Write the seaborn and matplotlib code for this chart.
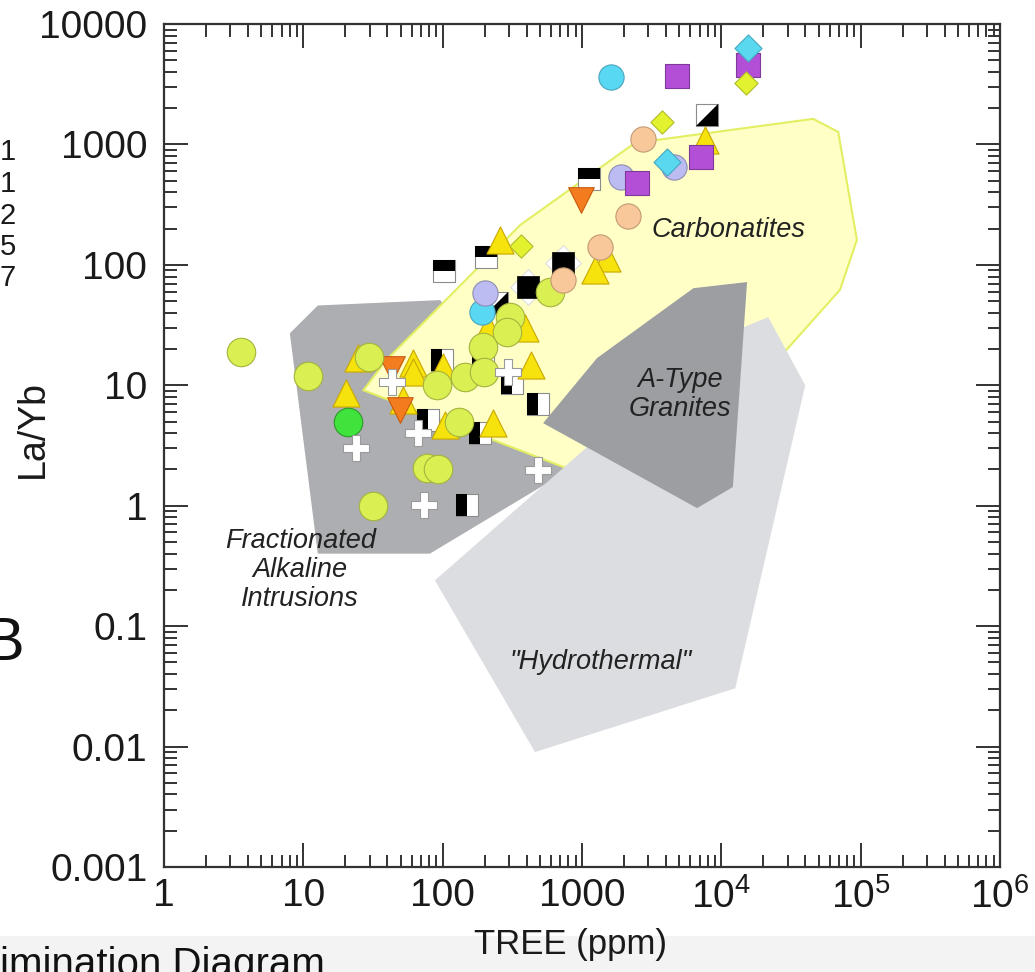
import numpy as np
import pandas as pd
import matplotlib
matplotlib.use("Agg")
import matplotlib.pyplot as plt
from matplotlib.markers import MarkerStyle
from matplotlib.ticker import LogLocator, FixedLocator, FixedFormatter, NullFormatter
import seaborn as sns

# ---------------- field outlines (TREE ppm, La/Yb) ----------------
frac_x = [8.0, 12.7, 96, 820, 81, 12.7]
frac_y = [27, 46, 51, 2.0, 0.40, 0.40]

carb_x = [27, 39, 360, 2400, 45600, 69000, 94000, 71000, 29700, 7000, 1350]
carb_y = [9.1, 16, 214, 1030, 1630, 1270, 161, 62, 20, 4.2, 1.6]

hydro_x = [88, 1090, 7000, 21700, 40000, 12600, 460]
hydro_y = [0.24, 3.07, 21.6, 36.8, 10.0, 0.0305, 0.009]

atype_x = [526, 1280, 6300, 15300, 12100, 6700]
atype_y = [4.85, 16.8, 64, 72, 1.43, 0.955]

# ---------------- sample groups ----------------
ygc_x = [3.57, 10.8, 29.6, 31.7, 91, 77, 93, 131, 145, 195, 198, 305, 290, 590]
ygc_y = [18.9, 11.9, 17.1, 1.0, 10.0, 2.05, 2.0, 4.94, 11.7, 20.8, 12.9, 36.9, 27.7, 59.4]

green_x = [20.9]
green_y = [4.94]

tri_x = [20.3, 24.7, 61.3, 61.3, 52, 101, 104, 230, 431, 212, 391, 258, 1515, 1243, 7658]
tri_y = [8.62, 16.8, 15.3, 12.9, 7.53, 14.2, 4.67, 4.85, 14.7, 29.9, 29.9, 161, 114, 90.6, 1089]

dtri_x = [43.3, 49.4, 986]
dtri_y = [13.6, 6.22, 345]

cross_x = [43.3, 23.9, 66.6, 73.5, 295, 484]
cross_y = [10.6, 3.01, 4.01, 1.01, 12.9, 1.98]

tophalf_x = [102, 205, 1125]
tophalf_y = [88.9, 116, 516]

lefthalf_x = [99, 315, 484, 78.6, 185, 150, 195]
lefthalf_y = [16.2, 10.4, 6.98, 5.14, 4.01, 1.01, 16.2]

diag_x = [7909, 246]
diag_y = [1754, 48.2]

blk_x = [410, 732]
blk_y = [65.5, 103]

cyanc_x = [1618, 192]
cyanc_y = [3631, 40.6]

lavc_x = [1909, 4585, 201]
lavc_y = [536, 649, 58.3]

peach_x = [2748, 2144, 1349, 732]
peach_y = [1109, 254, 141, 74.8]

purp_x = [4818, 15570, 7167, 2489]
purp_y = [3700, 4560, 785, 478]

ygd_x = [15070, 3758, 365]
ygd_y = [3236, 1535, 143]

cyand_x = [15570, 4083]
cyand_y = [6324, 714]

xtick_vals = [1, 10, 100, 1000, 1e4, 1e5, 1e6]
xtick_labels = ["1", "10", "100", "1000", r"$\mathregular{10^4}$",
                r"$\mathregular{10^5}$", r"$\mathregular{10^6}$"]
ytick_vals = [0.001, 0.01, 0.1, 1, 10, 100, 1000, 10000]
ytick_labels = ["0.001", "0.01", "0.1", "1", "10", "100", "1000", "10000"]

# ---------------- style ----------------
sns.set_theme(style="white")
plt.rcParams["font.family"] = ["Liberation Sans", "DejaVu Sans"]
plt.rcParams["mathtext.fontset"] = "custom"
plt.rcParams["mathtext.rm"] = "Liberation Sans"
plt.rcParams["mathtext.it"] = "Liberation Sans:italic"

fig = plt.figure(figsize=(10.35, 9.72), dpi=100)
W, H = 1035, 972
ax = fig.add_axes([164 / W, 1 - 867 / H, (1000 - 164) / W, (867 - 24) / H])
ax.set_xscale("log")
ax.set_yscale("log")
ax.set_xlim(1, 1e6)
ax.set_ylim(0.001, 10000)

# ---------------- fields ----------------
ax.fill(frac_x, frac_y, facecolor="#adaeb1", edgecolor="none", zorder=0.5)
ax.fill(carb_x, carb_y, facecolor="#ffffc6", edgecolor="#e2ef62", linewidth=1.5, zorder=0.6)
ax.fill(hydro_x, hydro_y, facecolor="#dcdde0", edgecolor="none", zorder=0.7)
ax.fill(atype_x, atype_y, facecolor="#9d9ea2", edgecolor="none", zorder=0.8)


def pts(xs, ys):
    return pd.DataFrame({"TREE": xs, "LaYb": ys})


def scat(xs, ys, z, **kw):
    sns.scatterplot(data=pts(xs, ys), x="TREE", y="LaYb", ax=ax, zorder=z,
                    legend=False, **kw)


edge_grey = "#8c8c8c"
sq = 250

# half-filled squares: white body, black half on top
scat(tophalf_x, tophalf_y, 3, marker="s", s=sq, color="white", edgecolor=edge_grey, linewidth=0.8)
scat(tophalf_x, tophalf_y, 3.1, marker=MarkerStyle("s", fillstyle="top"), s=sq,
     color="black", edgecolor="none", linewidth=0)
scat(lefthalf_x, lefthalf_y, 3, marker="s", s=sq, color="white", edgecolor=edge_grey, linewidth=0.8)
scat(lefthalf_x, lefthalf_y, 3.1, marker=MarkerStyle("s", fillstyle="left"), s=sq,
     color="black", edgecolor="none", linewidth=0)
scat(diag_x, diag_y, 3, marker="s", s=sq, color="white", edgecolor=edge_grey, linewidth=0.8)
scat(diag_x, diag_y, 3.1, marker=[(-1, -1), (1, -1), (1, 1)], s=sq,
     color="black", edgecolor="none", linewidth=0)
scat(blk_x, blk_y, 3, marker="D", s=330, color="white", edgecolor="#dddddd", linewidth=0.8)
scat(blk_x, blk_y, 3.1, marker="s", s=sq, color="black", edgecolor="black", linewidth=0.5)

# triangles
scat(tri_x, tri_y, 3.5, marker="^", s=380, color="#f6e20c", edgecolor="#c9a800", linewidth=0.8)
scat(dtri_x, dtri_y, 3.6, marker="v", s=340, color="#f27c1e", edgecolor="#c85a10", linewidth=0.8)

# circles
scat(ygc_x, ygc_y, 4, marker="o", s=420, color="#d9ef52", edgecolor="#a5b43c", linewidth=0.8)
scat(green_x, green_y, 4, marker="o", s=420, color="#3fe33c", edgecolor="#2a9a28", linewidth=0.8)
scat(cyanc_x, cyanc_y, 4.1, marker="o", s=330, color="#58d8f2", edgecolor="#4aa6bc", linewidth=0.8)
scat(lavc_x, lavc_y, 4.1, marker="o", s=330, color="#bcbcf2", edgecolor="#8c8cb4", linewidth=0.8)
scat(peach_x, peach_y, 4.1, marker="o", s=330, color="#f8c79a", edgecolor="#c29a74", linewidth=0.8)

# crosses
scat(cross_x, cross_y, 4.5, marker="P", s=350, color="white", edgecolor="#9a9a9a", linewidth=0.8)

# squares and diamonds
scat(purp_x, purp_y, 4.2, marker="s", s=300, color="#b34fd6", edgecolor="#7e3a98", linewidth=0.8)
scat(ygd_x, ygd_y, 4.3, marker="D", s=140, color="#e3f22e", edgecolor="#b0bc2a", linewidth=0.8)
scat(cyand_x, cyand_y, 4.4, marker="D", s=190, color="#5ad8f0", edgecolor="#44a8c0", linewidth=0.8)

# ---------------- field labels ----------------
lab = dict(style="italic", fontsize=19.5, color="#222222", ha="center", va="center",
           transform=ax.transAxes, zorder=6, linespacing=1.15)
ax.text(0.675, 0.756, "Carbonatites", **lab)
ax.text(0.617, 0.560, "A-Type\nGranites", **lab)
ax.text(0.163, 0.352, "Fractionated\nAlkaline\nIntrusions", **lab)
ax.text(0.522, 0.243, "\"Hydrothermal\"", **lab)

# ---------------- axes ----------------
ax.xaxis.set_major_locator(FixedLocator(xtick_vals))
ax.xaxis.set_major_formatter(FixedFormatter(xtick_labels))
ax.yaxis.set_major_locator(FixedLocator(ytick_vals))
ax.yaxis.set_major_formatter(FixedFormatter(ytick_labels))
ax.xaxis.set_minor_locator(LogLocator(base=10, subs=np.arange(2, 10), numticks=20))
ax.yaxis.set_minor_locator(LogLocator(base=10, subs=np.arange(2, 10), numticks=20))
ax.xaxis.set_minor_formatter(NullFormatter())
ax.yaxis.set_minor_formatter(NullFormatter())
ax.tick_params(which="both", direction="in", top=True, right=True, bottom=True, left=True,
               colors="#333333", width=1.4, labelsize=28, labelcolor="#1a1a1a")
ax.tick_params(which="major", length=17)
ax.tick_params(which="minor", length=9)
ax.tick_params(axis="y", which="major", pad=12)
ax.tick_params(axis="x", which="major", pad=8)
for sp in ax.spines.values():
    sp.set_color("#333333")
    sp.set_linewidth(1.6)

ax.set_xlabel("TREE (ppm)", fontsize=25, color="#1a1a1a")
ax.set_ylabel("La/Yb", fontsize=27, color="#1a1a1a")
ax.xaxis.set_label_coords(0.486, -0.072)
ax.yaxis.set_label_coords(-0.135, 0.52)

# ---------------- surrounding slide fragments ----------------
fig.patches.append(plt.Rectangle((0, 0), 1, 36 / H, transform=fig.transFigure,
                                 facecolor="#f3f3f3", edgecolor="none", zorder=-1))
for txt, ypx in zip(["1", "1", "2", "5", "7"], [152, 184, 216, 247, 278]):
    fig.text(16 / W, 1 - ypx / H, txt, ha="right", va="center", fontsize=21, color="#1a1a1a")
fig.text(25 / W, 1 - 645 / H, "B", ha="right", va="center", fontsize=44, color="#111111")
fig.text(0, 1 - 946 / H, "imination Diagram", ha="left", va="top",
         fontsize=29, color="#111111")

fig.savefig("out.png", dpi=100)
